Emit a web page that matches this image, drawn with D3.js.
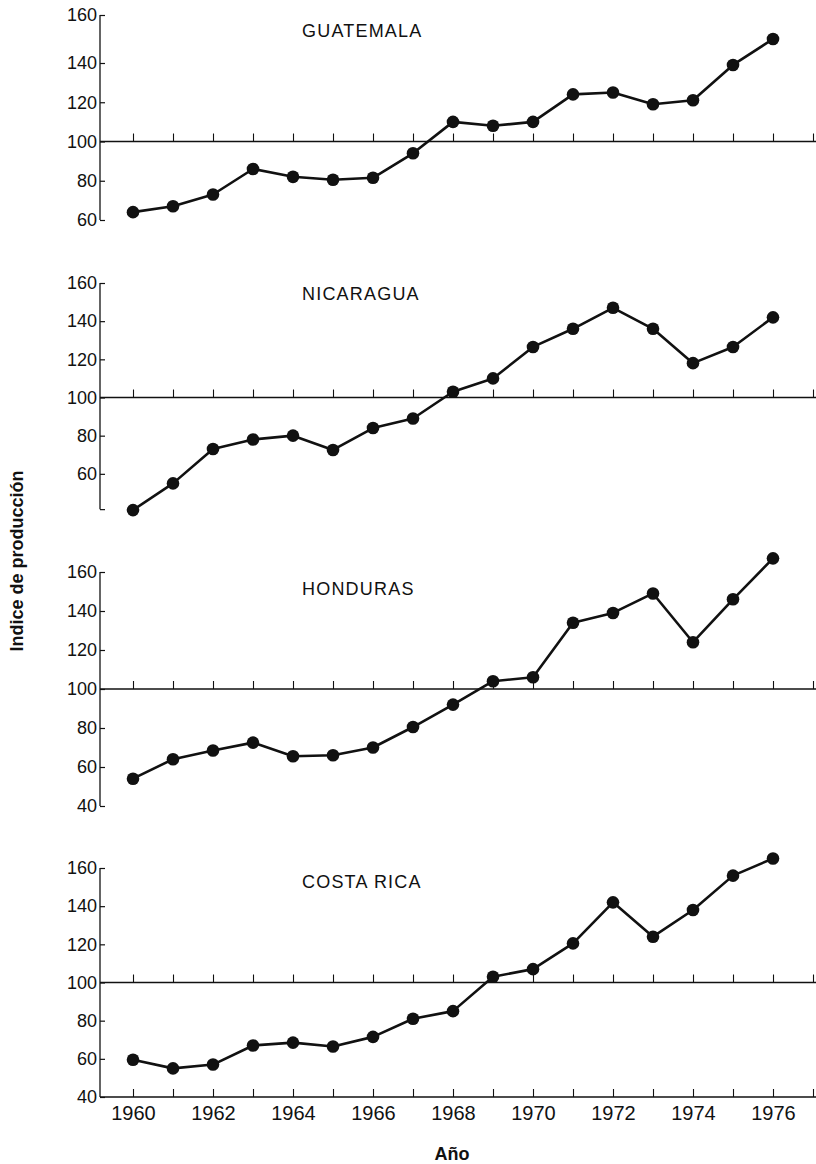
<!DOCTYPE html>
<html>
<head>
<meta charset="utf-8">
<script src="https://cdn.jsdelivr.net/npm/d3@7"></script>
<style>
  body { margin: 0; background: #fff; }
  text { font-family: "Liberation Sans", Arial, sans-serif; fill: #111; }
</style>
</head>
<body>
<svg id="chart" width="816" height="1164"></svg>
<script>
// ---------------- DATA ----------------
const years = [1960, 1961, 1962, 1963, 1964, 1965, 1966, 1967, 1968, 1969, 1970, 1971, 1972, 1973, 1974, 1975, 1976];
const countries = ["GUATEMALA", "NICARAGUA", "HONDURAS", "COSTA RICA"];
const guatemala = [64, 67, 73, 86, 82, 80.5, 81.5, 94, 110, 108, 110, 124, 125, 119, 121, 139, 150];
const nicaragua = [41, 55, 73, 78, 80, 72.5, 84, 89, 103, 110, 126.5, 136, 147, 136, 118, 126.5, 142];
const honduras  = [54, 64, 68.5, 72.5, 65.5, 66, 70, 80.5, 92, 104, 106, 134, 139, 149, 124, 146, 167];
const costaRica = [59.5, 55, 57, 67, 68.5, 66.5, 71.5, 81, 85, 103, 107, 120.5, 142, 124, 138, 156, 165];
const yTickLabelsG = [60, 80, 100, 120, 140, 160];
const yTickLabelsN = [60, 80, 100, 120, 140, 160];
const yTickLabelsH = [40, 60, 80, 100, 120, 140, 160];
const yTickLabelsC = [40, 60, 80, 100, 120, 140, 160];
const xTickYears = [1960, 1961, 1962, 1963, 1964, 1965, 1966, 1967, 1968, 1969, 1970, 1971, 1972, 1973, 1974, 1975, 1976, 1977];
const xTickLabels = [1960, 1962, 1964, 1966, 1968, 1970, 1972, 1974, 1976];
const yTitle = "Indice de producción";
const xTitle = "Año";

// ---------------- LAYOUT ----------------
const seriesList = [guatemala, nicaragua, honduras, costaRica];
const tickLists = [yTickLabelsG, yTickLabelsN, yTickLabelsH, yTickLabelsC];
const layout = [
  { domain: [60, 140, 160], range: [220, 63, 15], axisMin: 60, extraTicks: [], titleY: 37 },
  { domain: [40, 160], range: [512, 283], axisMin: 41.5, extraTicks: [41.5], titleY: 300 },
  { domain: [40, 160], range: [806, 572], axisMin: 40, extraTicks: [], titleY: 595 },
  { domain: [40, 160], range: [1097, 868], axisMin: 40, extraTicks: [], titleY: 888 }
];
const axisX = 100, rightX = 816, titleX = 302;
const ink = "#111";

const svg = d3.select("#chart");
const x = d3.scaleLinear().domain([1960, 1976]).range([133, 773]);

layout.forEach((L, i) => {
  const vals = seriesList[i];
  const ticks = tickLists[i];
  const y = d3.scaleLinear().domain(L.domain).range(L.range);
  const g = svg.append("g");

  // vertical axis line
  g.append("line")
    .attr("x1", axisX).attr("x2", axisX)
    .attr("y1", y(160)).attr("y2", y(L.axisMin))
    .attr("stroke", ink).attr("stroke-width", 1.3);

  // small tick marks to the right of the axis
  const tickAx = d3.axisRight(y).tickValues(ticks.concat(L.extraTicks)).tickSize(5).tickSizeOuter(0).tickFormat("");
  const tg = g.append("g").attr("transform", `translate(${axisX},0)`).call(tickAx);
  tg.select(".domain").remove();
  tg.selectAll("line").attr("stroke", ink).attr("stroke-width", 1.2);

  // tick labels
  const labAx = d3.axisLeft(y).tickValues(ticks).tickSize(0).tickPadding(3);
  const lg = g.append("g").attr("transform", `translate(${axisX},0)`).call(labAx);
  lg.select(".domain").remove();
  lg.selectAll("text").attr("font-size", 18).attr("font-family", "Liberation Sans, Arial, sans-serif").attr("fill", ink);

  // baseline at 100 with upward year ticks
  const baseY = y(100);
  g.append("line").attr("x1", axisX).attr("x2", rightX).attr("y1", baseY).attr("y2", baseY)
    .attr("stroke", ink).attr("stroke-width", 1.5);
  const yearAx = d3.axisTop(x).tickValues(xTickYears).tickSize(8).tickSizeOuter(0).tickFormat("");
  const yg = g.append("g").attr("transform", `translate(0,${baseY})`).call(yearAx);
  yg.select(".domain").remove();
  yg.selectAll("line").attr("stroke", ink).attr("stroke-width", 1.1);

  // title
  g.append("text").attr("x", titleX).attr("y", L.titleY)
    .attr("font-size", 18).attr("letter-spacing", 1.2).text(countries[i]);

  // series line
  const line = d3.line().x((d, j) => x(years[j])).y(d => y(d));
  g.append("path").datum(vals).attr("d", line)
    .attr("fill", "none").attr("stroke", ink).attr("stroke-width", 2.6).attr("stroke-linejoin", "round");
  g.selectAll("circle").data(vals).join("circle")
    .attr("cx", (d, j) => x(years[j])).attr("cy", d => y(d)).attr("r", 6.3).attr("fill", ink);

  // bottom x axis for the last panel
  if (i === layout.length - 1) {
    const botY = y(40);
    g.append("line").attr("x1", axisX).attr("x2", rightX).attr("y1", botY).attr("y2", botY)
      .attr("stroke", ink).attr("stroke-width", 1.5);
    const bt = g.append("g").attr("transform", `translate(0,${botY})`).call(yearAx);
    bt.select(".domain").remove();
    bt.selectAll("line").attr("stroke", ink).attr("stroke-width", 1.1);
    const bl = g.append("g").attr("transform", `translate(0,${botY})`)
      .call(d3.axisBottom(x).tickValues(xTickLabels).tickSize(0).tickPadding(9).tickFormat(d3.format("d")));
    bl.select(".domain").remove();
    bl.selectAll("text").attr("font-size", 20).attr("font-family", "Liberation Sans, Arial, sans-serif").attr("fill", ink);
  }
});

// axis titles
svg.append("text").attr("transform", "translate(23,561) rotate(-90)")
  .attr("text-anchor", "middle").attr("font-size", 18).attr("font-weight", "bold").text(yTitle);
svg.append("text").attr("x", 452).attr("y", 1160)
  .attr("text-anchor", "middle").attr("font-size", 18).attr("font-weight", "bold").text(xTitle);
</script>
</body>
</html>
